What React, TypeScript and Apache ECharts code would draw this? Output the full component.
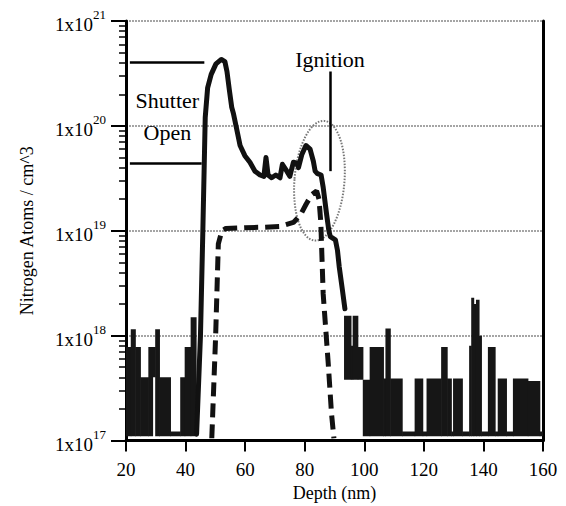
import { useEffect, useRef } from 'react';
import * as echarts from 'echarts';

const FONT = '"Liberation Serif", "Times New Roman", serif';

// Solid profile (smooth part), depth in nm, N atoms / cm^3
const solidDepth = [43.7, 45.0, 45.8, 46.6, 47.4, 48.6, 50.2, 52.0, 53.2, 53.9, 54.7, 55.5, 56.1, 57.0, 58.3, 59.9, 61.6, 63.3, 65.0, 66.3, 67.0, 67.7, 68.9, 70.3, 71.7, 72.5, 74.0, 75.0, 76.2, 77.4, 77.9, 79.0, 80.4, 81.8, 82.9, 83.5, 84.3, 85.5, 86.2, 87.4, 88.1, 88.6, 90.3, 91.0, 91.6, 92.6, 93.5];
const solidValue = [1.15e17, 1.0e18, 1.0e19, 1.2e20, 2.3e20, 3.1e20, 3.9e20, 4.3e20, 4.1e20, 3.3e20, 2.2e20, 1.5e20, 1.3e20, 9.8e19, 6.5e19, 5.2e19, 4.5e19, 3.7e19, 3.4e19, 3.3e19, 5.0e19, 3.4e19, 3.2e19, 3.4e19, 3.2e19, 4.3e19, 3.7e19, 3.3e19, 4.5e19, 4.4e19, 4.0e19, 5.3e19, 6.5e19, 6.0e19, 4.6e19, 3.7e19, 3.5e19, 3.4e19, 2.6e19, 1.4e19, 1.0e19, 8.8e18, 8.2e18, 6.5e18, 4.5e18, 2.8e18, 1.8e18];

// Noise-level parts of the solid profile: depth bins with low/high extent
const F = 1.1e17;
const noiseStart = [20.0, 21.7, 23.2, 24.9, 27.6, 29.0, 29.9, 31.3, 35.0, 38.3, 39.8, 41.8,
  93.3, 95.6, 96.2, 97.9, 99.6, 101.9, 106.5, 107.2, 108.8, 112.8, 117.0, 119.7, 121.0, 125.9, 127.9, 129.3, 129.9, 133.0, 135.3, 136.0, 136.8, 137.6, 138.6, 139.4, 141.6, 144.0, 144.9, 147.8, 150.0, 155.0, 159.0];
const noiseEnd = [21.7, 23.2, 24.9, 27.6, 29.0, 29.9, 31.3, 35.0, 38.3, 39.8, 41.8, 43.6,
  95.6, 96.2, 97.9, 99.6, 101.9, 106.5, 107.2, 108.8, 112.8, 117.0, 119.7, 121.0, 125.9, 127.9, 129.3, 129.9, 133.0, 135.3, 136.0, 136.8, 137.6, 138.6, 139.4, 141.6, 144.0, 144.9, 147.8, 150.0, 155.0, 159.0, 160.0];
const noiseLow = [F, F, F, F, F, 4.0e17, F, F, F, F, F, F,
  3.8e17, 3.8e17, 3.8e17, 3.8e17, F, F, F, F, F, F, F, F, F, F, F, F, F, F, F, F, F, F, F, F, F, F, F, F, F, F, F];
const noiseHigh = [7.8e17, 1.15e18, 7.8e17, 4.0e17, 7.8e17, 7.8e17, 1.15e18, 4.0e17, 1.22e17, 4.0e17, 7.8e17, 1.5e18,
  1.55e18, 8.0e17, 1.55e18, 7.8e17, 3.8e17, 7.8e17, 3.9e17, 1.17e18, 3.9e17, 1.22e17, 3.9e17, 1.22e17, 3.9e17, 7.8e17, 3.9e17, 1.22e17, 3.9e17, 1.22e17, 8.0e17, 2.3e18, 2.0e18, 2.2e18, 1.0e18, 1.22e17, 7.8e17, 1.22e17, 3.9e17, 1.22e17, 3.9e17, 3.7e17, 1.22e17];

// Dashed profile
const dashedDepth = [48.8, 50.1, 51.0, 52.2, 53.5, 60.0, 66.0, 71.7, 76.2, 78.5, 80.5, 82.3, 84.0, 84.8, 85.4, 86.2, 87.9, 89.0, 89.8];
const dashedValue = [1.05e17, 1.0e18, 7.5e18, 1.0e19, 1.05e19, 1.07e19, 1.08e19, 1.1e19, 1.2e19, 1.4e19, 1.8e19, 2.2e19, 2.4e19, 2.0e19, 1.2e19, 2.5e18, 5.4e17, 1.8e17, 1.05e17];

// Axes
const xTicks = [20, 40, 60, 80, 100, 120, 140, 160];
const yMin = 1e17;
const yMax = 1e21;
const minorTickExp: number[] = [];
for (let e = 17; e < 21; e++) {
  for (let m = 2; m <= 9; m++) minorTickExp.push(e + Math.log10(m));
}

// Annotations (data coordinates)
const shutterLineDepth = [21.3, 46.3];
const shutterTopValue = 4.0e20;
const shutterBottomValue = 4.4e19;
const shutterBottomEnd = 45.4;
const ignitionDepth = 88.5;
const ignitionRange = [3.7e19, 3.3e20];
const shutterLabel = { depth: 33.9, line1: 1.75e20, line2: 8.7e19 };
const ignitionLabel = { depth: 88.5, value: 4.3e20 };
const ellipseCenter = { depth: 84.95, value: 3.0e19 };

export default function App() {
  const ref = useRef<HTMLDivElement>(null);

  useEffect(() => {
    const chart = echarts.init(ref.current!, undefined, { renderer: 'svg' });
    const solidData = solidDepth.map((d, i) => [d, solidValue[i]]);
    const dashedData = dashedDepth.map((d, i) => [d, dashedValue[i]]);
    const noiseData = noiseStart.map((s, i) => [s, noiseEnd[i], noiseLow[i], noiseHigh[i]]);

    const option: any = {
      animation: false,
      backgroundColor: '#fff',
      grid: { left: 126, right: 23, top: 21, bottom: 65.5, containLabel: false, outerBoundsMode: 'none' },
      xAxis: {
        type: 'value',
        min: xTicks[0],
        max: xTicks[xTicks.length - 1],
        interval: 20,
        name: 'Depth (nm)',
        nameLocation: 'middle',
        nameGap: 43,
        nameTextStyle: { fontFamily: FONT, fontSize: 18, color: '#000' },
        axisLine: { show: true, onZero: false, lineStyle: { color: '#000', width: 3 } },
        axisTick: { show: true, inside: false, length: 11, lineStyle: { color: '#000', width: 2 } },
        axisLabel: { fontFamily: FONT, fontSize: 19, color: '#000', margin: 19 },
        splitLine: { show: false },
      },
      yAxis: [
        {
          type: 'log',
          logBase: 10,
          min: yMin,
          max: yMax,
          splitNumber: 4,
          name: 'Nitrogen Atoms / cm^3',
          nameLocation: 'middle',
          nameGap: 90,
          nameTextStyle: { fontFamily: FONT, fontSize: 18, color: '#000' },
          axisLine: { show: true, lineStyle: { color: '#000', width: 3 } },
          axisTick: { show: true, inside: false, length: 15, lineStyle: { color: '#000', width: 2 } },
          axisLabel: {
            margin: 20,
            formatter: (v: number) => `{b|1x10}{s|${Math.round(Math.log10(v))}}`,
            rich: {
              b: { fontFamily: FONT, fontSize: 19, color: '#000', verticalAlign: 'bottom', lineHeight: 26 },
              s: { fontFamily: FONT, fontSize: 13, color: '#000', verticalAlign: 'top', lineHeight: 14 },
            },
          },
          splitLine: { show: true, lineStyle: { color: '#888', width: 1.5, type: [2, 1] } },
        },
        {
          type: 'value',
          min: 17,
          max: 21,
          position: 'left',
          axisLine: { show: false },
          axisLabel: { show: false },
          splitLine: { show: false },
          axisTick: { show: true, inside: false, length: 7, customValues: minorTickExp, lineStyle: { color: '#000', width: 1.5 } },
        },
        {
          type: 'value',
          min: 0,
          max: 1,
          position: 'right',
          axisLine: { show: true, lineStyle: { color: '#000', width: 3 } },
          axisLabel: { show: false },
          axisTick: { show: false },
          splitLine: { show: false },
        },
      ],
      series: [
        {
          type: 'custom',
          name: 'noise',
          xAxisIndex: 0,
          yAxisIndex: 0,
          silent: true,
          clip: true,
          dimensions: ['start', 'end', 'low', 'high'],
          encode: { x: ['start', 'end'], y: ['low', 'high'] },
          renderItem: (_p: any, api: any) => {
            const p0 = api.coord([api.value(0), api.value(3)]);
            const p1 = api.coord([api.value(1), api.value(2)]);
            return {
              type: 'rect',
              shape: { x: p0[0] - 0.3, y: p0[1], width: p1[0] - p0[0] + 0.6, height: p1[1] - p0[1] },
              style: { fill: '#161616' },
            };
          },
          data: noiseData,
        },
        {
          type: 'line',
          name: 'solid',
          yAxisIndex: 0,
          data: solidData,
          showSymbol: false,
          symbol: 'none',
          silent: true,
          lineStyle: { color: '#111', width: 5, join: 'round', cap: 'round' },
          markLine: {
            silent: true,
            symbol: ['none', 'none'],
            label: { show: false },
            lineStyle: { color: '#000', width: 2.5, type: 'solid' },
            data: [
              [{ coord: [shutterLineDepth[0], shutterTopValue] }, { coord: [shutterLineDepth[1], shutterTopValue] }],
              [{ coord: [shutterLineDepth[0], shutterBottomValue] }, { coord: [shutterBottomEnd, shutterBottomValue] }],
              [{ coord: [ignitionDepth, ignitionRange[0]] }, { coord: [ignitionDepth, ignitionRange[1]] }],
            ],
          },
        },
        {
          type: 'line',
          name: 'dashed',
          yAxisIndex: 0,
          data: dashedData,
          showSymbol: false,
          symbol: 'none',
          silent: true,
          lineStyle: { color: '#111', width: 5, type: [14, 7], cap: 'butt' },
        },
      ],
    };
    chart.setOption(option);

    const px = (d: number, v: number) => chart.convertToPixel({ xAxisIndex: 0, yAxisIndex: 0 }, [d, v]) as number[];
    const s1 = px(shutterLabel.depth, shutterLabel.line1);
    const s2 = px(shutterLabel.depth, shutterLabel.line2);
    const ig = px(ignitionLabel.depth, ignitionLabel.value);
    const ec = px(ellipseCenter.depth, ellipseCenter.value);
    const textStyle = (text: string) => ({ text, fontFamily: FONT, fontSize: 22, fill: '#000', align: 'center', verticalAlign: 'middle' });
    chart.setOption({
      graphic: [
        { type: 'text', x: s1[0], y: s1[1], silent: true, style: textStyle('Shutter') },
        { type: 'text', x: s2[0], y: s2[1], silent: true, style: textStyle('Open') },
        { type: 'text', x: ig[0], y: ig[1], silent: true, style: textStyle('Ignition') },
        {
          type: 'ellipse',
          x: ec[0],
          y: ec[1],
          rotation: -0.08,
          silent: true,
          shape: { cx: 0, cy: 0, rx: 25, ry: 60 },
          style: { fill: 'none', stroke: '#777', lineWidth: 2, lineDash: [1.5, 1.5] },
        },
      ],
    });

    return () => chart.dispose();
  }, []);

  return <div ref={ref} style={{ position: 'fixed', left: 0, top: 0, width: 566, height: 506 }} />;
}
